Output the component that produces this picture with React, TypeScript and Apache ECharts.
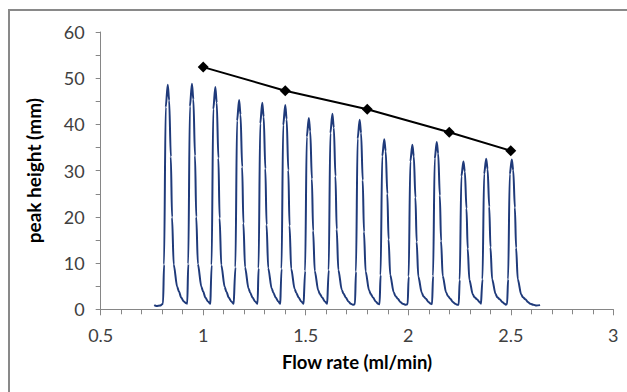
import React, { useEffect, useRef } from "react";
import * as echarts from "echarts";

// Chromatogram trace: [flow rate (ml/min), signal (mm)]
const trace: number[][] = [
  [0.761, 0.9], [0.772, 0.7], [0.790, 0.8], [0.800, 1.1],
  // peak 1
  [0.804, 1.3], [0.809, 9.7], [0.817, 43.7], [0.827, 48.6], [0.834, 45.2], [0.842, 33.0], [0.848, 19.9], [0.856, 9.7], [0.873, 4.9], [0.881, 3.9], [0.893, 2.5], [0.905, 1.7], [0.917, 1.3],
  // peak 2
  [0.922, 1.2], [0.927, 9.8], [0.935, 43.9], [0.945, 48.8], [0.952, 45.4], [0.960, 33.2], [0.966, 20.0], [0.974, 9.8], [0.991, 4.9], [0.999, 3.9], [1.011, 2.5], [1.023, 1.7], [1.035, 1.2],
  // peak 3
  [1.036, 1.2], [1.041, 9.6], [1.049, 43.3], [1.059, 48.1], [1.066, 44.7], [1.074, 32.7], [1.080, 19.7], [1.088, 9.6], [1.105, 4.8], [1.113, 3.8], [1.125, 2.5], [1.137, 1.7], [1.149, 1.2],
  // peak 4
  [1.152, 1.2], [1.157, 9.1], [1.165, 40.8], [1.175, 45.3], [1.182, 42.1], [1.190, 30.8], [1.196, 18.6], [1.204, 9.1], [1.221, 4.5], [1.229, 3.6], [1.241, 2.5], [1.253, 1.7],
  // peak 5
  [1.265, 1.2], [1.270, 8.9], [1.278, 40.2], [1.288, 44.7], [1.295, 41.6], [1.303, 30.4], [1.309, 18.3], [1.317, 8.9], [1.334, 4.5], [1.342, 3.6], [1.354, 2.5], [1.366, 1.7], [1.376, 1.2],
  // peak 6
  [1.377, 1.2], [1.382, 8.8], [1.390, 39.8], [1.400, 44.2], [1.407, 41.1], [1.415, 30.1], [1.421, 18.1], [1.429, 8.8], [1.446, 4.4], [1.454, 3.5], [1.466, 2.5], [1.478, 1.7], [1.490, 1.2],
  // peak 7
  [1.492, 1.2], [1.497, 8.3], [1.505, 37.3], [1.515, 41.4], [1.522, 38.5], [1.530, 28.2], [1.536, 17.0], [1.544, 8.3], [1.561, 4.1], [1.569, 3.3], [1.581, 2.5], [1.593, 1.7], [1.605, 1.2],
  // peak 8
  [1.607, 1.2], [1.612, 8.5], [1.620, 38.1], [1.630, 42.3], [1.637, 39.3], [1.645, 28.8], [1.651, 17.3], [1.659, 8.5], [1.676, 4.2], [1.684, 3.4], [1.696, 2.5], [1.708, 1.7], [1.720, 1.2],
  [1.730, 1.0],
  // peak 9
  [1.740, 1.1], [1.745, 8.2], [1.753, 36.9], [1.763, 41.0], [1.770, 38.1], [1.778, 27.9], [1.784, 16.8], [1.792, 8.2], [1.809, 4.1], [1.817, 3.3], [1.829, 2.5], [1.841, 1.7], [1.853, 1.2],
  // peak 10
  [1.860, 1.1], [1.865, 7.4], [1.873, 33.1], [1.883, 36.8], [1.890, 34.2], [1.898, 25.0], [1.904, 15.1], [1.912, 7.4], [1.929, 3.7], [1.937, 2.9], [1.949, 2.3], [1.961, 1.6], [1.973, 1.2],
  [1.985, 1.0],
  // peak 11
  [1.997, 1.1], [2.002, 7.1], [2.010, 32.0], [2.020, 35.6], [2.027, 33.1], [2.035, 24.2], [2.041, 14.6], [2.049, 7.1], [2.066, 3.6], [2.074, 2.8], [2.086, 2.3], [2.098, 1.6], [2.110, 1.2],
  // peak 12
  [2.116, 1.1], [2.121, 7.2], [2.129, 32.6], [2.139, 36.2], [2.146, 33.7], [2.154, 24.6], [2.160, 14.8], [2.168, 7.2], [2.185, 3.6], [2.193, 2.9], [2.205, 2.3], [2.217, 1.6], [2.229, 1.2],
  [2.238, 1.0],
  // peak 13
  [2.246, 1.0], [2.251, 6.4], [2.259, 28.8], [2.269, 32.0], [2.276, 29.8], [2.284, 21.8], [2.290, 13.1], [2.298, 6.4], [2.315, 3.2], [2.323, 2.6], [2.335, 2.2], [2.347, 1.6], [2.355, 1.2],
  // peak 14
  [2.357, 1.1], [2.362, 6.5], [2.370, 29.3], [2.380, 32.6], [2.387, 30.3], [2.395, 22.2], [2.401, 13.4], [2.409, 6.5], [2.426, 3.3], [2.434, 2.6], [2.446, 2.2], [2.458, 1.6], [2.470, 1.2],
  [2.476, 1.0],
  // peak 15
  [2.482, 1.1], [2.487, 6.5], [2.495, 29.2], [2.505, 32.4], [2.512, 30.1], [2.520, 22.0], [2.526, 13.3], [2.534, 6.5], [2.551, 3.2], [2.559, 2.6], [2.571, 2.2], [2.583, 1.6], [2.595, 1.2],
  [2.610, 1.0], [2.625, 0.8], [2.643, 0.9],
];

// Peak height vs flow rate
const flowRates: number[] = [1.0, 1.4, 1.8, 2.2, 2.5];
const peakHeights: number[] = [52.4, 47.3, 43.3, 38.3, 34.3];

const FONT = "Lato, 'Open Sans', sans-serif";
const AXIS_GRAY = "#868686";

export default function App() {
  const ref = useRef<HTMLDivElement>(null);

  useEffect(() => {
    if (!ref.current) return;
    const chart = echarts.init(ref.current, undefined, { renderer: "svg" });
    chart.setOption({
      animation: false,
      backgroundColor: "#ffffff",
      grid: { left: 100.7, right: 13.7, top: 32, bottom: 82.7, containLabel: false },
      graphic: [
        {
          type: "rect",
          shape: { x: 9, y: 10, width: 700, height: 500 },
          style: { fill: "none", stroke: "#898989", lineWidth: 2 },
          silent: true,
        },
      ],
      xAxis: {
        type: "value",
        min: 0.5,
        max: 3,
        interval: 0.5,
        name: "Flow rate (ml/min)",
        nameLocation: "middle",
        nameGap: 43,
        nameTextStyle: { fontFamily: FONT, fontSize: 18.5, fontWeight: "bold", color: "#000000" },
        axisLine: { show: true, lineStyle: { color: AXIS_GRAY, width: 1 } },
        axisTick: { show: true, length: 6, lineStyle: { color: AXIS_GRAY } },
        minorTick: { show: true, splitNumber: 5, length: 5, lineStyle: { color: AXIS_GRAY } },
        splitLine: { show: false },
        axisLabel: { fontFamily: FONT, fontSize: 18, color: "#404040", margin: 17 },
      },
      yAxis: {
        type: "value",
        min: 0,
        max: 60,
        interval: 10,
        name: "peak height (mm)",
        nameLocation: "middle",
        nameGap: 58,
        nameTextStyle: { fontFamily: FONT, fontSize: 19, fontWeight: "bold", color: "#000000" },
        axisLine: { show: true, lineStyle: { color: AXIS_GRAY, width: 1 } },
        axisTick: { show: true, length: 5, lineStyle: { color: AXIS_GRAY } },
        minorTick: { show: true, splitNumber: 2, length: 5, lineStyle: { color: AXIS_GRAY } },
        splitLine: { show: false },
        axisLabel: { fontFamily: FONT, fontSize: 18, color: "#404040", margin: 16 },
      },
      series: [
        {
          type: "line",
          data: trace,
          showSymbol: false,
          symbol: "none",
          smooth: 0.3,
          smoothMonotone: "x",
          lineStyle: { color: "#1f3a7a", width: 2 },
          z: 2,
        },
        {
          type: "line",
          data: flowRates.map((x, i) => [x, peakHeights[i]]),
          symbol: "diamond",
          symbolSize: 11,
          itemStyle: { color: "#000000" },
          lineStyle: { color: "#000000", width: 2 },
          z: 3,
        },
      ],
    });
    return () => chart.dispose();
  }, []);

  return (
    <div
      ref={ref}
      style={{ position: "fixed", left: 0, top: 0, width: 627, height: 392, background: "#fff" }}
    />
  );
}
